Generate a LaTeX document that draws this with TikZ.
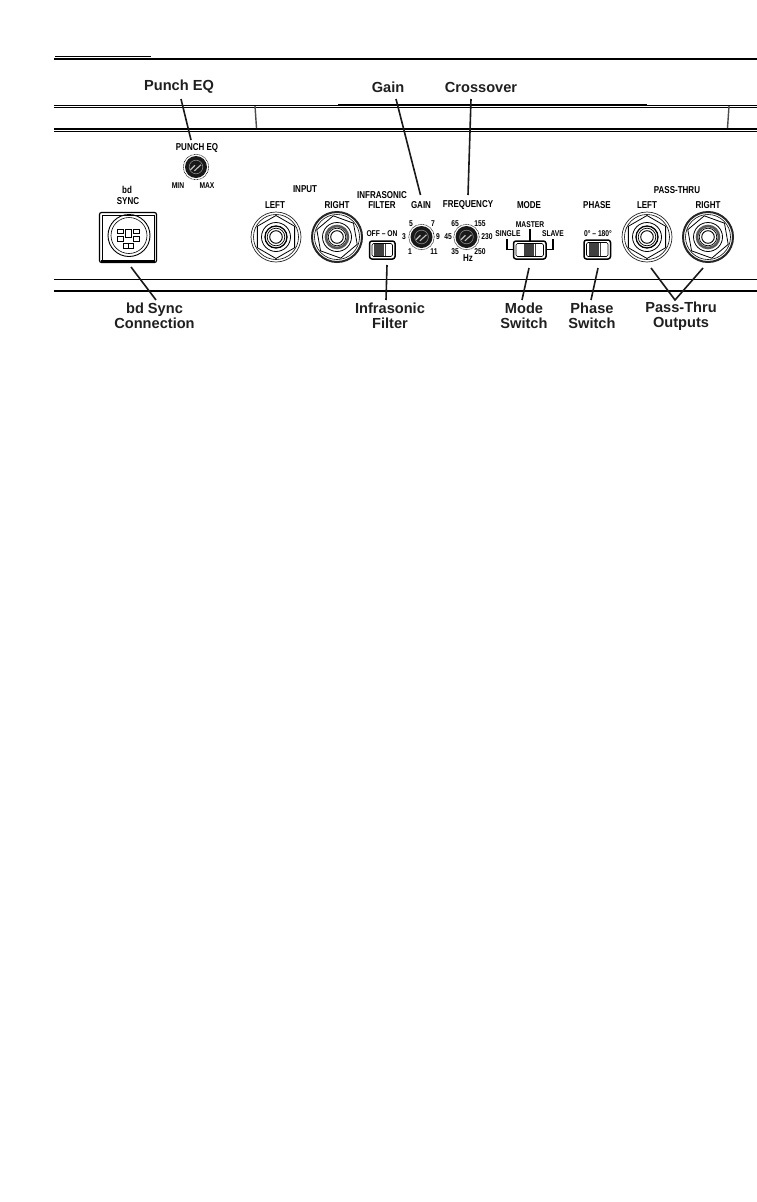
\documentclass[tikz,border=0pt]{standalone}
\usepackage{fontspec}
\usetikzlibrary{shapes.geometric}
\setmainfont{Liberation Sans}
\newfontfamily\panelfont[FakeStretch=0.8]{Liberation Sans}
\tikzset{
  x=1pt,y=-1pt,
  callout/.style={font=\fontsize{14.6}{14}\selectfont\bfseries,text=black!88,inner sep=0pt},
  panel/.style={font=\panelfont\fontsize{10}{10}\selectfont\bfseries,inner sep=0pt},
  tiny/.style={font=\panelfont\fontsize{8.4}{8}\selectfont\bfseries,inner sep=0pt},
  leader/.style={draw=black!90,line width=1.6pt},
  thinrule/.style={draw=black,line width=0.9pt},
  thickrule/.style={draw=black,line width=2pt},
  switchbody/.style={draw=black,line width=1.5pt,fill=white,rounded corners=2.5pt},
  pin/.style={draw=black,line width=0.8pt,fill=white}
}
\newcommand{\knobat}[4]{% name, x, y, radius
  \node[circle,inner sep=0pt,minimum size=#4*2pt+3.5pt,draw=black,line width=0.5pt,dash pattern=on 1pt off 0.6pt] (#1) at (#2,#3) {};
  \fill[black!90] (#2,#3) circle[radius=#4];
  \draw[white!55!black,line width=0.6pt] (#2,#3) circle[radius=#4*0.62];
  \draw[white!75!black,line width=1.1pt] (#2-#4*0.5,#3+#4*0.25) -- (#2-#4*0.1,#3-#4*0.15) (#2-#4*0.15,#3+#4*0.35) -- (#2+#4*0.45,#3-#4*0.2);
}
\newcommand{\jackat}[6]{% name, x, y, ring width, inner ring colour, hex rotation
  \node[circle,inner sep=0pt,minimum size=50pt,draw=black!85,line width=#4] (#1) at (#2,#3) {};
  \draw[black,line width=0.6pt] (#2,#3) circle[radius=22.5];
  \node[regular polygon,regular polygon sides=6,shape border rotate=#6,draw=black,line width=0.8pt,minimum size=43pt,inner sep=0pt] at (#2,#3) {};
  \draw[black,line width=0.8pt] (#2,#3) circle[radius=14.5];
  \draw[#5,line width=#4+0.6pt] (#2,#3) circle[radius=11];
  \draw[black,line width=0.7pt] (#2,#3) circle[radius=8.8];
  \draw[black,line width=0.9pt] (#2,#3) circle[radius=6.3];
}
\newcommand{\slider}[6]{% name,x1,y1,x2,y2,handle start
  \node[inner sep=0pt,minimum size=0pt] (#1) at ({(#2+#4)/2},{(#3+#5)/2}) {};
  \draw[switchbody] (#2,#3) rectangle (#4,#5);
  \draw[black,line width=0.6pt,rounded corners=1.5pt] (#2+2.5,#3+2.5) rectangle (#4-2.5,#5-2.5);
  \foreach \i in {0,...,5}{\fill[black!75] (#6+\i*2.1,#3+3) rectangle ++(1.5,{#5-#3-6});}
}
\begin{document}
\begin{tikzpicture}
\useasboundingbox (0,0) rectangle (757,1202);
\fill[white] (0,0) rectangle (757,1202);

% rules
\coordinate (r1a) at (55,56.5); \coordinate (r1b) at (151,56.5);
\draw[thinrule] (r1a) -- (r1b);
\draw[thickrule] (54,59) -- (757,59);
\draw[draw=black,line width=0.8pt] (54,105.5) -- (757,105.5) (54,107.6) -- (757,107.6);
\draw[draw=black,line width=1pt] (338,104.4) -- (647,104.4);
\draw[thickrule] (54,128.8) -- (757,128.8);
\draw[thinrule] (54,131.2) -- (757,131.2);
\draw[draw=black!70,line width=1.4pt] (255,106) -- (256.5,128);
\draw[draw=black!70,line width=1.4pt] (729,106) -- (727.5,128);
\draw[thinrule] (54,279) -- (757,279);
\draw[thickrule] (54,290.7) -- (757,290.7);

% sync connector
\draw[draw=black,line width=1.2pt,rounded corners=2pt] (99.5,212.5) rectangle (156.5,262.5);
\draw[draw=black,line width=0.5pt] (102,215) rectangle (154,260);
\fill[black] (101,259.5) rectangle (155,262.5);
\node[circle,draw=black,line width=0.9pt,minimum size=42pt,inner sep=0pt] (sync) at (129,235.5) {};
\draw[black,line width=0.6pt] (129,235.5) circle[radius=18];
\draw[pin] (117,229) rectangle (123,233.5);
\draw[pin] (125.5,229) rectangle (131,237.5);
\draw[pin] (133.5,229) rectangle (139,233.5);
\draw[pin] (117.5,236.5) rectangle (123,241);
\draw[pin] (133.5,236.5) rectangle (139,241);
\draw[pin] (123,243.5) rectangle (128,248);
\draw[pin] (128,243.5) rectangle (133.5,248);
\node[panel] (tBd) at (127,190) {bd};
\node[panel] (tSync) at (128,201) {SYNC};

% punch eq
\knobat{kPunch}{196}{167}{11}
\node[panel] (tPunch) at (197,148) {PUNCH EQ};
\node[tiny] (tMin) at (178,186) {MIN};
\node[tiny] (tMax) at (207,186) {MAX};

% input
\node[panel] (tInput) at (305,189) {INPUT};
\node[panel] (tL1) at (275,205) {LEFT};
\node[panel] (tR1) at (337,205) {RIGHT};
\jackat{jL1}{276}{237}{0.7pt}{black}{30}
\jackat{jR1}{337}{237}{2pt}{black!65}{40}

% infrasonic
\node[panel] (tInfra) at (382,195) {INFRASONIC};
\node[panel] (tFilter) at (382,205) {FILTER};
\node[tiny] (tOff) at (382,234) {OFF – ON};
\slider{sInfra}{369.5}{241}{395}{259}{374}

% gain
\node[panel] (tGain) at (421,205) {GAIN};
\knobat{kGain}{421.5}{237}{11}
\node[tiny] at (411,224) {5};
\node[tiny] at (433,224) {7};
\node[tiny] at (404,237) {3};
\node[tiny] at (438,237) {9};
\node[tiny] at (410,252) {1};
\node[tiny] at (434,252) {11};

% frequency
\node[panel] (tFreq) at (468,205) {FREQUENCY};
\knobat{kFreq}{466.5}{237}{11}
\node[tiny] at (455,224) {65};
\node[tiny] at (480,224) {155};
\node[tiny] at (448,237) {45};
\node[tiny] at (487,237) {230};
\node[tiny] at (455,252) {35};
\node[tiny] at (480,252) {250};
\node[panel] at (468,258) {Hz};

% mode
\node[panel] (tMode) at (529,205) {MODE};
\node[tiny] (tMaster) at (530,224.5) {MASTER};
\node[tiny] (tSingle) at (508,234) {SINGLE};
\node[tiny] (tSlave) at (553,234) {SLAVE};
\draw[draw=black,line width=1.2pt] (507,239) -- (507,249.5) -- (514,249.5);
\draw[draw=black,line width=1.2pt] (553,239) -- (553,249.5) -- (546,249.5);
\draw[draw=black,line width=1.2pt] (530,229) -- (530,241);
\slider{sMode}{513.5}{241}{546}{259}{524}

% phase
\node[panel] (tPhase) at (597,205) {PHASE};
\node[tiny] (tDeg) at (598,234) {0° – 180°};
\slider{sPhase}{584}{240}{610.5}{259}{589}

% pass-thru
\node[panel] (tPass) at (677,190) {PASS-THRU};
\node[panel] (tL2) at (647,205) {LEFT};
\node[panel] (tR2) at (708,205) {RIGHT};
\jackat{jL2}{647}{237}{0.7pt}{black}{30}
\jackat{jR2}{708}{237}{2pt}{black!65}{40}

% callouts
\node[callout] (cPunch) at (179,87) {Punch EQ};
\node[callout] (cGain) at (388,87) {Gain};
\node[callout] (cCross) at (481,87) {Crossover};
\node[callout,align=center] (cSync) at (154.5,316) {bd Sync\\[1pt]Connection};
\node[callout,align=center] (cInfra) at (390,316) {Infrasonic\\[1pt]Filter};
\node[callout,align=center] (cMode) at (524,316) {Mode\\[1pt]Switch};
\node[callout,align=center] (cPhase) at (592,316) {Phase\\[1pt]Switch};
\node[callout,align=center] (cPass) at (681,316) {Pass-Thru\\[1pt]Outputs};

% leader ends
\coordinate (ePunchA) at (181,99);  \coordinate (ePunchB) at (191,140);
\coordinate (eGainA) at (396,99);   \coordinate (eGainB) at (420.5,195);
\coordinate (eCrossA) at (471,99);  \coordinate (eCrossB) at (468,195);
\coordinate (eSyncA) at (131,267);  \coordinate (eSyncB) at (156,300);
\coordinate (eInfraA) at (387,265); \coordinate (eInfraB) at (386,300);
\coordinate (eModeA) at (529,268);  \coordinate (eModeB) at (522,300);
\coordinate (ePhaseA) at (598,268); \coordinate (ePhaseB) at (591,300);
\coordinate (ePassA) at (651,268);  \coordinate (ePassV) at (675,300); \coordinate (ePassB) at (703,268);

\draw[leader] (ePunchA) -- (ePunchB);
\draw[leader] (eGainA) -- (eGainB);
\draw[leader] (eCrossA) -- (eCrossB);
\draw[leader] (eSyncA) -- (eSyncB);
\draw[leader] (eInfraA) -- (eInfraB);
\draw[leader] (eModeA) -- (eModeB);
\draw[leader] (ePhaseA) -- (ePhaseB);
\draw[leader] (ePassA) -- (ePassV) -- (ePassB);
\end{tikzpicture}
\end{document}
